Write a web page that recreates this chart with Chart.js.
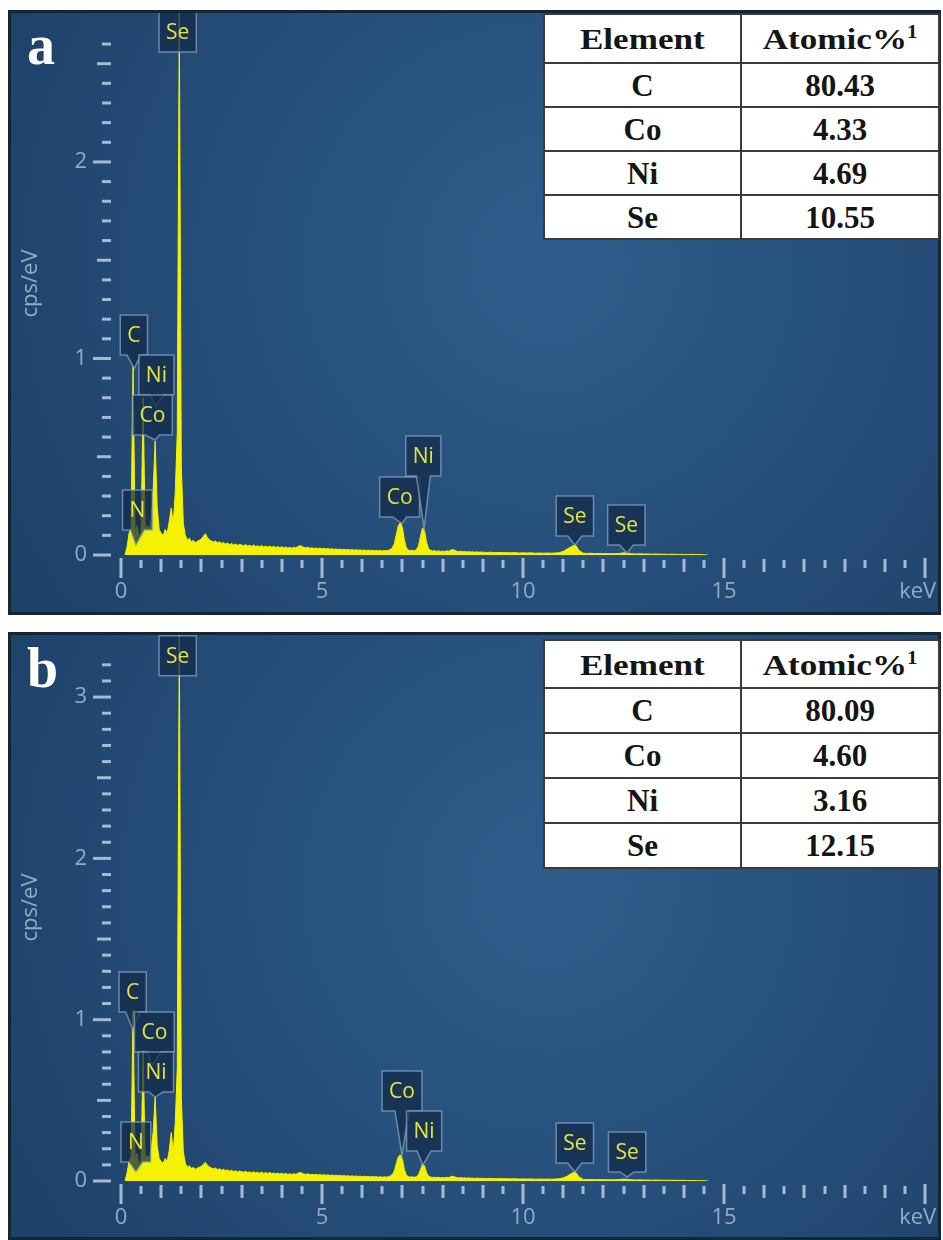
<!DOCTYPE html>
<html>
<head>
<meta charset="utf-8">
<script src="https://cdn.jsdelivr.net/npm/chart.js@4.4.0/dist/chart.umd.min.js"></script>
<style>
    body { margin: 0; background: #fff; width: 943px; height: 1240px; position: relative; overflow: hidden; }
    canvas { position: absolute; left: 8px; }
    #chartA { top: 10px; }
    #chartB { top: 632px; }
    .panelTag { position: absolute; left: 27px; color: #fff; font: bold 56px 'Liberation Serif', serif; line-height: 1; }
    table.comp { position: absolute; left: 543px; width: 395px; border-collapse: collapse; background: #fff;
        font-family: 'Liberation Serif', serif; font-weight: bold; color: #151515; table-layout: fixed; }
    table.comp td { border: 2px solid #3b3b3b; text-align: center; padding: 0; font-size: 31px; line-height: 1; }
    table.comp .wide { display: inline-block; transform: scaleX(1.17); font-size: 30px; }
    table.comp sup { font-size: 0.6em; vertical-align: 0.6em; }
</style>
</head>
<body>
<canvas id="chartA" width="933" height="605"></canvas>
<canvas id="chartB" width="933" height="608"></canvas>
<div class="panelTag" style="top:17px">a</div>
<div class="panelTag" style="top:640px">b</div>
<table class="comp" id="tableA" style="top:13px"></table>
<table class="comp" id="tableB" style="top:639px"></table>

<script>
// energy axis (keV), shared by both spectra
const energyKeV = [
    0.10, 0.15, 0.20, 0.25, 0.30, 0.35, 0.40, 0.45, 0.50, 0.55, 0.60, 0.65, 0.70, 0.75, 0.80, 0.85, 0.90, 0.95,
    1.00, 1.05, 1.10, 1.15, 1.20, 1.25, 1.30, 1.35, 1.40, 1.45, 1.50, 1.55, 1.60, 1.65, 1.70, 1.75, 1.80, 1.85, 1.90, 1.95,
    2.00, 2.05, 2.10, 2.15, 2.20, 2.25, 2.30, 2.35, 2.40, 2.45, 2.50, 2.55, 2.60, 2.65, 2.70, 2.75, 2.80, 2.85, 2.90, 2.95,
    3.00, 3.05, 3.10, 3.15, 3.20, 3.25, 3.30, 3.35, 3.40, 3.45, 3.50, 3.55, 3.60, 3.65, 3.70, 3.75, 3.80, 3.85, 3.90, 3.95,
    4.00, 4.05, 4.10, 4.15, 4.20, 4.25, 4.30, 4.35, 4.40, 4.45, 4.50, 4.55, 4.60, 4.65, 4.70, 4.75, 4.80, 4.85, 4.90, 4.95,
    5.00, 5.05, 5.10, 5.15, 5.20, 5.25, 5.30, 5.35, 5.40, 5.45, 5.50, 5.55, 5.60, 5.65, 5.70, 5.75, 5.80, 5.85, 5.90, 5.95,
    6.00, 6.05, 6.10, 6.15, 6.20, 6.25, 6.30, 6.35, 6.40, 6.45, 6.50, 6.55, 6.60, 6.65, 6.70, 6.75, 6.80, 6.85, 6.90, 6.95,
    7.00, 7.05, 7.10, 7.15, 7.20, 7.25, 7.30, 7.35, 7.40, 7.45, 7.50, 7.55, 7.60, 7.65, 7.70, 7.75, 7.80, 7.85, 7.90, 7.95,
    8.00, 8.05, 8.10, 8.15, 8.20, 8.25, 8.30, 8.35, 8.40, 8.45, 8.50, 8.55, 8.60, 8.65, 8.70, 8.75, 8.80, 8.85, 8.90, 8.95,
    9.0, 9.1, 9.2, 9.3, 9.4, 9.5, 9.6, 9.7, 9.8, 9.9,
    10.0, 10.1, 10.2, 10.3, 10.4, 10.5, 10.6, 10.7, 10.8, 10.9,
    11.0, 11.1, 11.2, 11.3, 11.4, 11.5, 11.6, 11.7, 11.8, 11.9,
    12.0, 12.1, 12.2, 12.3, 12.4, 12.5, 12.6, 12.7, 12.8, 12.9,
    13.0, 13.1, 13.2, 13.3, 13.4, 13.5, 13.6, 13.7, 13.8, 13.9,
    14.0, 14.1, 14.2, 14.3, 14.4, 14.5, 14.6
];

// cps/eV, panel a
const spectrumA = [
    0.00, 0.04, 0.11, 0.14, 0.96, 0.12, 0.15, 0.09, 0.12, 0.80, 0.13, 0.15, 0.13, 0.18, 0.33, 0.58, 0.24, 0.13,
    0.11, 0.10, 0.13, 0.11, 0.17, 0.24, 0.16, 0.32, 0.62, 2.76, 0.45, 0.16, 0.10, 0.075, 0.085, 0.068, 0.074, 0.063, 0.070, 0.075,
    0.082, 0.095, 0.108, 0.088, 0.078, 0.071, 0.066, 0.072, 0.061, 0.067, 0.059, 0.064, 0.056, 0.061, 0.053, 0.059, 0.051, 0.056, 0.049, 0.054,
    0.051, 0.047, 0.053, 0.046, 0.049, 0.044, 0.051, 0.043, 0.047, 0.042, 0.048, 0.041, 0.045, 0.040, 0.046, 0.039, 0.044, 0.038, 0.043, 0.037,
    0.042, 0.036, 0.041, 0.035, 0.039, 0.034, 0.040, 0.036, 0.043, 0.047, 0.044, 0.038, 0.036, 0.040, 0.034, 0.037, 0.033, 0.036, 0.032, 0.035,
    0.031, 0.034, 0.030, 0.033, 0.029, 0.032, 0.028, 0.031, 0.027, 0.030, 0.027, 0.029, 0.026, 0.028, 0.025, 0.028, 0.024, 0.027, 0.024, 0.026,
    0.023, 0.026, 0.022, 0.025, 0.022, 0.024, 0.021, 0.024, 0.021, 0.023, 0.020, 0.023, 0.021, 0.024, 0.028, 0.037, 0.058, 0.105, 0.150, 0.165,
    0.140, 0.075, 0.036, 0.026, 0.022, 0.024, 0.021, 0.028, 0.045, 0.095, 0.138, 0.125, 0.065, 0.032, 0.024, 0.020, 0.022, 0.019, 0.021, 0.018,
    0.020, 0.018, 0.021, 0.019, 0.024, 0.028, 0.024, 0.019, 0.017, 0.019, 0.016, 0.018, 0.015, 0.017, 0.015, 0.016, 0.014, 0.016, 0.014, 0.015,
    0.014, 0.013, 0.014, 0.012, 0.013, 0.012, 0.012, 0.011, 0.012, 0.010,
    0.011, 0.010, 0.011, 0.009, 0.010, 0.009, 0.010, 0.009, 0.010, 0.012,
    0.018, 0.030, 0.042, 0.052, 0.022, 0.009, 0.008, 0.009, 0.007, 0.008,
    0.007, 0.007, 0.006, 0.007, 0.008, 0.011, 0.009, 0.006, 0.005, 0.006,
    0.005, 0.005, 0.004, 0.005, 0.004, 0.004, 0.003, 0.004, 0.003, 0.003,
    0.003, 0.002, 0.003, 0.002, 0.002, 0.001, 0.000
];

// cps/eV, panel b
const spectrumB = [
    0.00, 0.05, 0.12, 0.15, 1.06, 0.13, 0.17, 0.10, 0.13, 0.81, 0.14, 0.16, 0.14, 0.19, 0.30, 0.52, 0.22, 0.14,
    0.12, 0.11, 0.14, 0.12, 0.19, 0.30, 0.18, 0.36, 0.70, 3.39, 0.52, 0.18, 0.11, 0.085, 0.095, 0.078, 0.084, 0.072, 0.080, 0.085,
    0.092, 0.104, 0.116, 0.097, 0.087, 0.080, 0.075, 0.081, 0.070, 0.076, 0.067, 0.073, 0.064, 0.069, 0.061, 0.067, 0.058, 0.064, 0.056, 0.062,
    0.058, 0.054, 0.060, 0.053, 0.056, 0.051, 0.057, 0.050, 0.054, 0.048, 0.055, 0.047, 0.052, 0.046, 0.053, 0.045, 0.050, 0.044, 0.049, 0.043,
    0.048, 0.042, 0.047, 0.041, 0.045, 0.040, 0.046, 0.041, 0.048, 0.052, 0.049, 0.043, 0.041, 0.045, 0.039, 0.042, 0.038, 0.041, 0.037, 0.040,
    0.036, 0.039, 0.035, 0.038, 0.034, 0.037, 0.033, 0.036, 0.032, 0.035, 0.031, 0.034, 0.030, 0.033, 0.029, 0.032, 0.028, 0.031, 0.028, 0.030,
    0.027, 0.030, 0.026, 0.029, 0.025, 0.028, 0.025, 0.027, 0.024, 0.027, 0.023, 0.026, 0.024, 0.027, 0.031, 0.040, 0.062, 0.110, 0.150, 0.162,
    0.135, 0.070, 0.036, 0.027, 0.024, 0.026, 0.023, 0.027, 0.038, 0.070, 0.105, 0.095, 0.052, 0.030, 0.025, 0.022, 0.024, 0.021, 0.023, 0.020,
    0.022, 0.020, 0.023, 0.021, 0.026, 0.030, 0.026, 0.021, 0.019, 0.021, 0.018, 0.020, 0.017, 0.019, 0.017, 0.018, 0.016, 0.018, 0.016, 0.017,
    0.016, 0.015, 0.016, 0.014, 0.015, 0.014, 0.014, 0.013, 0.014, 0.012,
    0.013, 0.012, 0.013, 0.011, 0.012, 0.011, 0.012, 0.011, 0.012, 0.014,
    0.019, 0.030, 0.046, 0.056, 0.024, 0.010, 0.009, 0.010, 0.008, 0.009,
    0.008, 0.008, 0.007, 0.008, 0.009, 0.012, 0.010, 0.007, 0.006, 0.007,
    0.006, 0.006, 0.005, 0.006, 0.005, 0.005, 0.004, 0.005, 0.004, 0.004,
    0.004, 0.003, 0.003, 0.002, 0.002, 0.001, 0.000
];

// axis ranges
const keVMax = 20;
const cpsMaxA = 2.763;
const cpsMaxB = 3.391;

// peak callouts: text, box centre (keV), box top (cps/eV), pointer tip (keV, cps/eV)
const calloutTextA = ['Se', 'C', 'Ni', 'Co', 'N', 'Co', 'Ni', 'Se', 'Se'];
const calloutKeVA  = [1.41, 0.32, 0.88, 0.78, 0.41, 6.93, 7.52, 11.29, 12.57];
const calloutTopA  = [2.763, 1.221, 1.018, 0.814, 0.331, 0.397, 0.606, 0.300, 0.254];
const tipKeVA      = [null, 0.33, 0.87, 0.85, 0.37, 6.99, 7.54, 11.29, 12.59];
const tipCpsA      = [null, 0.95, 0.76, 0.585, 0.05, 0.16, 0.137, 0.05, 0.01];

const calloutTextB = ['Se', 'C', 'Co', 'Ni', 'N', 'Co', 'Ni', 'Se', 'Se'];
const calloutKeVB  = [1.41, 0.29, 0.83, 0.87, 0.37, 6.99, 7.54, 11.29, 12.59];
const calloutTopB  = [3.38, 1.296, 1.048, 0.80, 0.366, 0.682, 0.434, 0.36, 0.304];
const tipKeVB      = [null, 0.30, 0.77, 0.85, 0.37, 6.99, 7.51, 11.29, 12.59];
const tipCpsB      = [null, 0.936, 0.719, 0.52, 0.056, 0.161, 0.099, 0.056, 0.025];

// composition tables
const tableElements = ['C', 'Co', 'Ni', 'Se'];
const atomicA = [80.43, 4.33, 4.69, 10.55];
const atomicB = [80.09, 4.60, 3.16, 12.15];

const tickColor = '#93abc4';
const markColor = 'rgba(178,198,220,0.9)';
Chart.defaults.font.family = "'Open Sans', sans-serif";

function fillTable(id, values, headH, rowH) {
    let html = '<colgroup><col style="width:197px"><col style="width:198px"></colgroup>';
    html += '<tr style="height:' + headH + 'px"><td><span class="wide">Element</span></td><td><span class="wide">Atomic%<sup>1</sup></span></td></tr>';
    for (let i = 0; i < tableElements.length; i++) {
        html += '<tr style="height:' + rowH + 'px"><td>' + tableElements[i] + '</td><td>' + values[i].toFixed(2) + '</td></tr>';
    }
    document.getElementById(id).innerHTML = html;
}

const panelBackground = {
    id: 'panelBackground',
    beforeDraw(chart) {
        const ctx = chart.ctx, w = chart.width, h = chart.height;
        const g = ctx.createRadialGradient(w * 0.58, h * 0.42, 10, w * 0.58, h * 0.42, w * 0.72);
        g.addColorStop(0, '#2e5d8b');
        g.addColorStop(1, '#1d3e67');
        ctx.save();
        ctx.fillStyle = g;
        ctx.fillRect(0, 0, w, h);
        ctx.restore();
    },
    afterDraw(chart) {
        const ctx = chart.ctx;
        ctx.save();
        ctx.strokeStyle = '#132537';
        ctx.lineWidth = 3;
        ctx.strokeRect(1.5, 1.5, chart.width - 3, chart.height - 3);
        ctx.restore();
    }
};

// tick marks of varying length, placed from the scales' own ticks
const axisMarks = {
    id: 'axisMarks',
    afterDraw(chart) {
        const ctx = chart.ctx, xs = chart.scales.x, ys = chart.scales.y;
        const base = chart.chartArea.bottom, left = chart.chartArea.left;
        ctx.save();
        ctx.fillStyle = markColor;
        xs.ticks.forEach(t => {
            const h2 = Math.round(t.value * 2);
            if (Math.abs(t.value * 2 - h2) > 1e-6) return;
            const px = Math.round(xs.getPixelForValue(t.value));
            let y0 = base + 5, y1 = base + 13;
            if (h2 % 10 === 0) { y0 = base + 3; y1 = base + 23; }
            else if (h2 % 2 === 0) { y0 = base + 4; y1 = base + 17; }
            ctx.fillRect(px - 1.5, y0, 3, y1 - y0);
        });
        ys.ticks.forEach(t => {
            const d = Math.round(t.value * 10);
            if (Math.abs(t.value * 10 - d) > 1e-6) return;
            const py = ys.getPixelForValue(t.value);
            let x0 = left - 19;
            if (d % 10 === 0) x0 = left - 28;
            else if (d % 5 === 0) x0 = left - 24;
            ctx.fillRect(x0, py - 1.5, left - 10 - x0, 3);
        });
        ctx.restore();
    }
};

const peakCallouts = {
    id: 'peakCallouts',
    afterDatasetsDraw(chart, args, opts) {
        const ctx = chart.ctx, xs = chart.scales.x, ys = chart.scales.y;
        ctx.save();
        ctx.font = "21px 'Open Sans'";
        for (let i = 0; i < opts.text.length; i++) {
            const w = ctx.measureText(opts.text[i]).width + 14, h = 40;
            const cx = xs.getPixelForValue(opts.keV[i]);
            const x0 = cx - w / 2, y0 = ys.getPixelForValue(opts.top[i]), y1 = y0 + h;
            ctx.beginPath();
            ctx.moveTo(x0, y0);
            ctx.lineTo(x0 + w, y0);
            ctx.lineTo(x0 + w, y1);
            if (opts.tipKeV[i] !== null) {
                ctx.lineTo(cx + 7, y1);
                ctx.lineTo(xs.getPixelForValue(opts.tipKeV[i]), ys.getPixelForValue(opts.tipCps[i]));
                ctx.lineTo(cx - 7, y1);
            }
            ctx.lineTo(x0, y1);
            ctx.closePath();
            ctx.fillStyle = 'rgba(18,42,72,0.72)';
            ctx.fill();
            ctx.strokeStyle = 'rgba(140,168,200,0.7)';
            ctx.lineWidth = 1.5;
            ctx.stroke();
            ctx.fillStyle = '#e4e63e';
            ctx.textAlign = 'center';
            ctx.textBaseline = 'middle';
            ctx.fillText(opts.text[i], cx, y0 + h / 2 + 1);
        }
        ctx.restore();
    }
};

function buildChart(canvasId, values, cpsMax, xAxisHeight, callouts) {
    const points = energyKeV.map((e, i) => ({ x: e, y: values[i] }));
    return new Chart(document.getElementById(canvasId), {
        type: 'line',
        data: {
            datasets: [{
                data: points,
                borderColor: '#f5f200',
                backgroundColor: '#f5f200',
                borderWidth: 1,
                pointRadius: 0,
                fill: 'origin',
                tension: 0
            }]
        },
        options: {
            responsive: false,
            animation: false,
            devicePixelRatio: 1,
            layout: { padding: { top: 2, right: 16, left: 0, bottom: 0 } },
            plugins: {
                legend: { display: false },
                tooltip: { enabled: false },
                peakCallouts: callouts
            },
            scales: {
                x: {
                    type: 'linear',
                    min: 0,
                    max: keVMax,
                    grid: { display: false, drawTicks: false },
                    border: { display: false },
                    ticks: {
                        stepSize: 0.5,
                        maxTicksLimit: 1000,
                        autoSkip: false,
                        maxRotation: 0,
                        padding: 24,
                        color: tickColor,
                        font: { size: 22 },
                        callback: v => {
                            const r = Math.round(v * 100) / 100;
                            // unit sits at the last tick, nudged left by trailing spaces
                            if (r === 20) return 'keV\u2002\u2009';
                            if (r < 20 && r % 5 === 0) return String(r);
                            return '';
                        }
                    },
                    afterFit(s) { s.height = xAxisHeight; s.paddingLeft = 0; s.paddingRight = 0; }
                },
                y: {
                    min: 0,
                    max: cpsMax,
                    grid: { display: false, drawTicks: false },
                    border: { display: false },
                    ticks: {
                        stepSize: 0.1,
                        maxTicksLimit: 1000,
                        autoSkip: false,
                        padding: 34,
                        color: tickColor,
                        font: { size: 22 },
                        callback: v => {
                            const r = Math.round(v * 10) / 10;
                            return (r % 1 === 0) ? String(r) : '';
                        }
                    },
                    title: {
                        display: true,
                        text: 'cps/eV',
                        color: tickColor,
                        font: { size: 22 },
                        padding: { top: 10, bottom: 0 }
                    },
                    afterFit(s) { s.width = 113; s.paddingTop = 0; s.paddingBottom = 0; }
                }
            }
        },
        plugins: [panelBackground, axisMarks, peakCallouts]
    });
}

fillTable('tableA', atomicA, 49, 44);
fillTable('tableB', atomicB, 48, 45);

buildChart('chartA', spectrumA, cpsMaxA, 60, {
    text: calloutTextA, keV: calloutKeVA, top: calloutTopA, tipKeV: tipKeVA, tipCps: tipCpsA
});
buildChart('chartB', spectrumB, cpsMaxB, 59, {
    text: calloutTextB, keV: calloutKeVB, top: calloutTopB, tipKeV: tipKeVB, tipCps: tipCpsB
});
</script>
</body>
</html>
